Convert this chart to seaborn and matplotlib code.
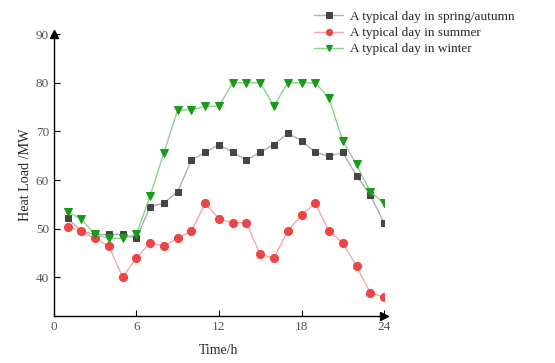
import matplotlib
matplotlib.use("Agg")
import matplotlib.pyplot as plt
import seaborn as sns
import pandas as pd

hours = list(range(1, 25))
spring_autumn = [52.1, 49.5, 48.8, 48.8, 48.8, 48.0, 54.5, 55.3, 57.6, 64.1, 65.7, 67.3,
                 65.7, 64.1, 65.7, 67.3, 69.6, 68.1, 65.7, 64.9, 65.7, 60.9, 56.9, 51.2]
summer = [50.4, 49.5, 48.0, 46.4, 40.0, 44.0, 47.1, 46.4, 48.0, 49.5, 55.2, 52.0,
          51.2, 51.2, 44.7, 44.0, 49.5, 52.8, 55.2, 49.5, 47.1, 42.3, 36.8, 35.9]
winter = [53.5, 51.9, 48.8, 48.0, 48.0, 48.8, 56.8, 65.6, 74.4, 74.4, 75.2, 75.2,
          80.0, 80.0, 80.0, 75.2, 80.0, 80.0, 80.0, 76.8, 68.0, 63.2, 57.6, 55.2]
labels = ["A typical day in spring/autumn", "A typical day in summer", "A typical day in winter"]
xticks = [0, 6, 12, 18, 24]
yticks = [40, 50, 60, 70, 80, 90]

sns.set_style("white")
plt.rcParams['font.family'] = ['Liberation Serif', 'DejaVu Serif']

fig = plt.figure(figsize=(5.55, 3.63), dpi=100)
ax = fig.add_axes([0.097, 0.129, 0.595, 0.777])

styles = [
    dict(line="#b0b0b0", mk="#454545", marker="s", ms=5),
    dict(line="#f4a8a8", mk="#ee4444", marker="o", ms=5.8),
    dict(line="#90d090", mk="#1a9a1a", marker="v", ms=5.8),
]
for vals, lab, st in zip([spring_autumn, summer, winter], labels, styles):
    df = pd.DataFrame({"Time": hours, "Load": vals})
    sns.lineplot(data=df, x="Time", y="Load", ax=ax, color=st["line"], lw=1.0,
                 marker=st["marker"], markersize=st["ms"], markerfacecolor=st["mk"],
                 markeredgecolor=st["mk"], label=lab)

ax.set_xlim(0, 24)
ax.set_ylim(32, 90)
ax.set_xticks(xticks)
ax.set_yticks(yticks)
ax.tick_params(direction="in", length=4, width=0.8, colors="black", labelcolor="#555555",
               labelsize=9.5, left=True, bottom=True)
for s in ["top", "right"]:
    ax.spines[s].set_visible(False)
for s in ["left", "bottom"]:
    ax.spines[s].set_color("black")
    ax.spines[s].set_linewidth(1.0)
ax.plot(1, 0, ">k", transform=ax.transAxes, clip_on=False, ms=6)
ax.plot(0, 1, "^k", transform=ax.transAxes, clip_on=False, ms=6)

ax.set_xlabel("Time/h", fontsize=10, labelpad=8)
ax.set_ylabel("Heat Load /MW", fontsize=10.2, labelpad=3)

leg = ax.legend(loc="upper left", bbox_to_anchor=(0.557, 0.985), bbox_transform=fig.transFigure,
                frameon=False, fontsize=9.5, handlelength=2.2, handletextpad=0.5,
                labelspacing=0.3, borderaxespad=0)
for h in leg.legend_handles:
    h.set_markersize(4.5)

fig.savefig("out.png", dpi=100)
